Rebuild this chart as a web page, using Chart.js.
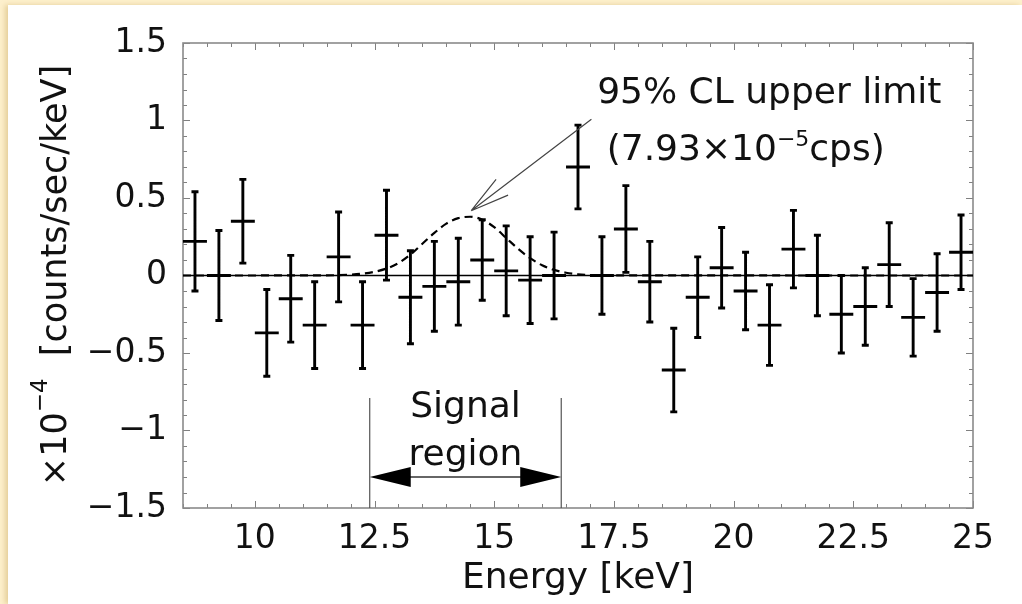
<!DOCTYPE html>
<html>
<head>
<meta charset="utf-8">
<script src="https://cdn.jsdelivr.net/npm/chart.js@4.4.1/dist/chart.umd.min.js"></script>
<style>
  html, body { margin: 0; padding: 0; }
  body { width: 1022px; height: 604px; background: #fdf0cc; overflow: hidden; position: relative; }
  #panel { position: absolute; left: 8px; top: 5px; width: 1014px; height: 599px; background: #fff;
           box-shadow: -3px 0 5px rgba(185, 145, 60, 0.35); }
  canvas { display: block; }
</style>
</head>
<body>
<div id="panel"><canvas id="spectrum" width="1014" height="599"></canvas></div>
<script>
// residual spectrum, x10^-4 counts/sec/keV, 0.5 keV bins
const binCenters = [8.75, 9.25, 9.75, 10.25, 10.75, 11.25, 11.75, 12.25, 12.75, 13.25, 13.75,
                    14.25, 14.75, 15.25, 15.75, 16.25, 16.75, 17.25, 17.75, 18.25, 18.75, 19.25,
                    19.75, 20.25, 20.75, 21.25, 21.75, 22.25, 22.75, 23.25, 23.75, 24.25, 24.75];
const rates = [0.22, 0.00, 0.35, -0.37, -0.15, -0.32, 0.12, -0.32, 0.26, -0.14, -0.07,
               -0.04, 0.10, 0.03, -0.03, 0.00, 0.70, 0.00, 0.30, -0.04, -0.61, -0.14,
               0.05, -0.10, -0.32, 0.17, 0.00, -0.25, -0.20, 0.07, -0.27, -0.11, 0.15];
const rateErrors = [0.32, 0.29, 0.27, 0.28, 0.28, 0.28, 0.29, 0.28, 0.29, 0.30, 0.29,
                    0.28, 0.26, 0.29, 0.28, 0.28, 0.27, 0.25, 0.28, 0.26, 0.27, 0.26,
                    0.26, 0.25, 0.26, 0.25, 0.26, 0.25, 0.25, 0.27, 0.25, 0.25, 0.24];
const binHalfWidth = 0.25;

// 95% CL upper-limit line profile
const limitEnergy = [8.5, 11.5, 12, 12.25, 12.5, 12.75, 13, 13.25, 13.5, 13.75, 14, 14.25, 14.5,
                     14.75, 15, 15.25, 15.5, 15.75, 16, 16.25, 16.5, 16.75, 17, 17.5, 25];
const limitRate = [0, 0.001, 0.006, 0.012, 0.024, 0.045, 0.080, 0.135, 0.205, 0.275, 0.335, 0.370, 0.379,
                   0.360, 0.312, 0.242, 0.172, 0.112, 0.066, 0.036, 0.018, 0.008, 0.003, 0.001, 0];

const signalRegion = [12.4, 16.4];

const energyMin = 8.5, energyMax = 25;
const rateMin = -1.5, rateMax = 1.5;
const xTickValues = [10, 12.5, 15, 17.5, 20, 22.5, 25];
const yTickValues = [-1.5, -1, -0.5, 0, 0.5, 1, 1.5];

const FONT = '"DejaVu Sans", "Liberation Sans", sans-serif';
const INK = '#111';

function minus(v) {
  return v < 0 ? '\u2212' + Math.abs(v) : String(v);
}

// inward ticks on all four sides plus the box
const frameTicks = {
  id: 'frameTicks',
  beforeDatasetsDraw(chart) {
    const { ctx, chartArea: a, scales: { x, y } } = chart;
    ctx.save();
    ctx.strokeStyle = '#808080';
    ctx.lineWidth = 1;
    ctx.beginPath();
    for (let v = energyMin; v <= energyMax + 1e-9; v += 0.5) {
      const px = Math.round(x.getPixelForValue(v)) + 0.5;
      const len = xTickValues.some(t => Math.abs(t - v) < 1e-6) ? 7 : 4;
      ctx.moveTo(px, a.bottom); ctx.lineTo(px, a.bottom - len);
      ctx.moveTo(px, a.top); ctx.lineTo(px, a.top + len);
    }
    for (let v = rateMin; v <= rateMax + 1e-9; v += 0.1) {
      const py = Math.round(y.getPixelForValue(v)) + 0.5;
      const len = yTickValues.some(t => Math.abs(t - v) < 1e-6) ? 7 : 4;
      ctx.moveTo(a.left, py); ctx.lineTo(a.left + len, py);
      ctx.moveTo(a.right, py); ctx.lineTo(a.right - len, py);
    }
    ctx.stroke();
    ctx.lineWidth = 1.6;
    ctx.strokeStyle = '#8a8a8a';
    ctx.strokeRect(a.left, a.top, a.right - a.left, a.bottom - a.top);
    ctx.restore();
  }
};

// crosses: bin width horizontally, 1 sigma vertically with small caps
const errorBars = {
  id: 'errorBars',
  afterDatasetsDraw(chart) {
    const { ctx, scales: { x, y } } = chart;
    ctx.save();
    ctx.strokeStyle = '#000';
    ctx.lineWidth = 2.9;
    ctx.beginPath();
    binCenters.forEach((e, i) => {
      const px = x.getPixelForValue(e);
      const py = y.getPixelForValue(rates[i]);
      const top = y.getPixelForValue(rates[i] + rateErrors[i]);
      const bot = y.getPixelForValue(rates[i] - rateErrors[i]);
      ctx.moveTo(x.getPixelForValue(e - binHalfWidth), py);
      ctx.lineTo(x.getPixelForValue(e + binHalfWidth), py);
      ctx.moveTo(px, top); ctx.lineTo(px, bot);
      ctx.moveTo(px - 3.5, top); ctx.lineTo(px + 3.5, top);
      ctx.moveTo(px - 3.5, bot); ctx.lineTo(px + 3.5, bot);
    });
    ctx.stroke();
    ctx.restore();
  }
};

function drawRuns(ctx, runs, x0, y0) {
  // runs: [text, size, raise]
  let cx = x0;
  for (const [text, size, raise] of runs) {
    ctx.font = size + 'px ' + FONT;
    ctx.fillText(text, cx, y0 - raise);
    cx += ctx.measureText(text).width;
  }
}

function runsWidth(ctx, runs) {
  let w = 0;
  for (const [text, size] of runs) {
    ctx.font = size + 'px ' + FONT;
    w += ctx.measureText(text).width;
  }
  return w;
}

const annotations = {
  id: 'annotations',
  afterDraw(chart) {
    const { ctx, chartArea: a, scales: { x, y } } = chart;
    ctx.save();
    ctx.fillStyle = INK;
    ctx.textBaseline = 'alphabetic';
    ctx.textAlign = 'left';

    // upper limit label and pointer
    ctx.font = '36px ' + FONT;
    ctx.fillText('95% CL upper limit', x.getPixelForValue(17.15), y.getPixelForValue(1.113));
    drawRuns(ctx, [['(7.93\u00d710', 36, 0], ['\u22125', 22, 14], ['cps)', 36, 0]],
             x.getPixelForValue(17.35), y.getPixelForValue(0.745));

    const sx = x.getPixelForValue(17.03), sy = y.getPixelForValue(1.008);
    const tx = x.getPixelForValue(14.52), ty = y.getPixelForValue(0.418);
    const ang = Math.atan2(sy - ty, sx - tx);
    ctx.strokeStyle = '#444';
    ctx.lineWidth = 1.2;
    ctx.beginPath();
    ctx.moveTo(sx, sy); ctx.lineTo(tx, ty);
    for (const d of [-0.25, 0.25]) {
      ctx.moveTo(tx, ty);
      ctx.lineTo(tx + 40 * Math.cos(ang + d), ty + 40 * Math.sin(ang + d));
    }
    ctx.stroke();

    // signal region markers
    const lx = x.getPixelForValue(signalRegion[0]);
    const rx = x.getPixelForValue(signalRegion[1]);
    ctx.strokeStyle = '#555';
    ctx.lineWidth = 1.2;
    ctx.beginPath();
    ctx.moveTo(lx, y.getPixelForValue(-0.79)); ctx.lineTo(lx, a.bottom);
    ctx.moveTo(rx, y.getPixelForValue(-0.79)); ctx.lineTo(rx, a.bottom);
    ctx.stroke();
    const ay = y.getPixelForValue(-1.3);
    ctx.lineWidth = 1.8;
    ctx.strokeStyle = '#666';
    ctx.beginPath();
    ctx.moveTo(lx + 30, ay); ctx.lineTo(rx - 30, ay);
    ctx.stroke();
    ctx.fillStyle = '#000';
    ctx.beginPath();
    ctx.moveTo(lx, ay); ctx.lineTo(lx + 41, ay - 10); ctx.lineTo(lx + 41, ay + 10); ctx.closePath();
    ctx.moveTo(rx, ay); ctx.lineTo(rx - 41, ay - 10); ctx.lineTo(rx - 41, ay + 10); ctx.closePath();
    ctx.fill();

    ctx.fillStyle = INK;
    ctx.textAlign = 'center';
    ctx.font = '36px ' + FONT;
    const mid = (lx + rx) / 2;
    ctx.fillText('Signal', mid, y.getPixelForValue(-0.911));
    ctx.fillText('region', mid, y.getPixelForValue(-1.223));

    // y axis title with exponent
    const titleRuns = [['\u00d710', 35, 0], ['\u22124', 23, 19], ['  [counts/sec/keV]', 35, 0]];
    const w = runsWidth(ctx, titleRuns);
    ctx.translate(58, (a.top + a.bottom) / 2);
    ctx.rotate(-Math.PI / 2);
    ctx.textAlign = 'left';
    drawRuns(ctx, titleRuns, -w / 2, 0);
    ctx.restore();
  }
};

const ctx = document.getElementById('spectrum').getContext('2d');

new Chart(ctx, {
  type: 'scatter',
  data: {
    datasets: [
      {
        label: 'rate',
        data: binCenters.map((e, i) => ({ x: e, y: rates[i] })),
        pointRadius: 0
      },
      {
        label: 'zero',
        data: [{ x: energyMin, y: 0 }, { x: energyMax, y: 0 }],
        showLine: true,
        borderColor: '#000',
        borderWidth: 1.3,
        pointRadius: 0
      },
      {
        label: 'upper limit',
        data: limitEnergy.map((e, i) => ({ x: e, y: limitRate[i] })),
        showLine: true,
        borderColor: '#000',
        borderWidth: 2.2,
        borderDash: [8, 5],
        cubicInterpolationMode: 'monotone',
        pointRadius: 0
      }
    ]
  },
  options: {
    responsive: false,
    animation: false,
    events: [],
    layout: { padding: { top: 38, right: 49, left: 0, bottom: 0 } },
    plugins: {
      legend: { display: false },
      tooltip: { enabled: false }
    },
    scales: {
      x: {
        type: 'linear',
        min: energyMin,
        max: energyMax,
        grid: { display: false, drawTicks: false },
        border: { display: false },
        afterBuildTicks: s => { s.ticks = xTickValues.map(v => ({ value: v })); },
        afterFit: s => { s.height = 96; },
        ticks: {
          padding: 12,
          color: INK,
          maxRotation: 0,
          autoSkip: false,
          font: { family: FONT, size: 33 },
          callback: v => minus(v)
        },
        title: {
          display: true,
          text: 'Energy [keV]',
          color: INK,
          font: { family: FONT, size: 36 },
          padding: { top: 0, bottom: 4 }
        }
      },
      y: {
        type: 'linear',
        min: rateMin,
        max: rateMax,
        grid: { display: false, drawTicks: false },
        border: { display: false },
        afterBuildTicks: s => { s.ticks = yTickValues.map(v => ({ value: v })); },
        afterFit: s => { s.width = 175; },
        ticks: {
          padding: 16,
          color: INK,
          autoSkip: false,
          font: { family: FONT, size: 33 },
          callback: v => minus(v)
        }
      }
    }
  },
  plugins: [frameTicks, errorBars, annotations]
});
</script>
</body>
</html>
